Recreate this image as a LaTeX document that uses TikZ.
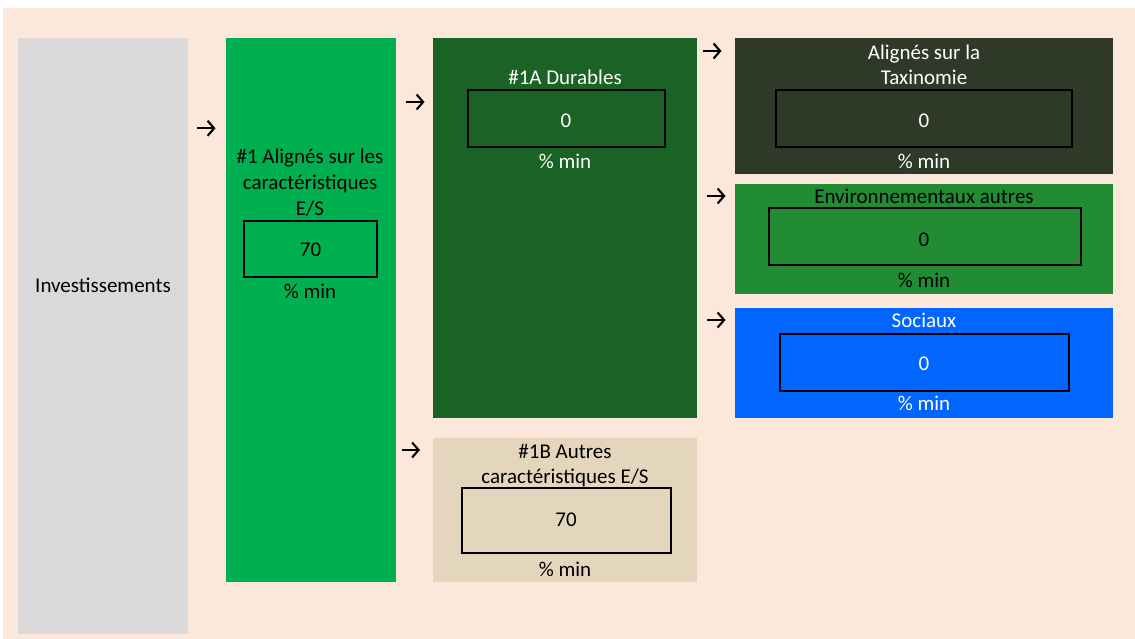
\documentclass[tikz,border=0pt]{standalone}
\usepackage{fontspec}
\setmainfont{Carlito}
\usetikzlibrary{arrows.meta}
\definecolor{bgpeach}{HTML}{FBE8DA}
\definecolor{invgray}{HTML}{D9D9D9}
\definecolor{esgreen}{HTML}{00B050}
\definecolor{durgreen}{HTML}{1B6225}
\definecolor{taxgreen}{HTML}{2E3A27}
\definecolor{envgreen}{HTML}{228C34}
\definecolor{socblue}{HTML}{0066FF}
\definecolor{othbeige}{HTML}{E3D6BC}
\tikzset{
  panel/.style={rectangle, inner sep=0pt, draw=none},
  valbox/.style={rectangle, inner sep=0pt, draw=black, line width=2pt},
  lbl/.style={inner sep=0pt, anchor=base, font=\fontsize{21}{25}\selectfont},
  flowarrow/.style={line width=2.1pt, -{Straight Barb[length=6.5pt,width=15pt,line width=2.1pt]}},
}
\begin{document}
\begin{tikzpicture}[x=1pt,y=-1pt]
\useasboundingbox (0,0) rectangle (1135,639);
\fill[bgpeach] (3,8) rectangle (1135,639);

% panels
\node[panel, fill=invgray, minimum width=170pt, minimum height=596pt] (inv) at (103,336) {};
\node[panel, fill=esgreen, minimum width=170pt, minimum height=544pt] (es) at (311,310) {};
\node[panel, fill=durgreen, minimum width=264pt, minimum height=380pt] (dur) at (565,228) {};
\node[panel, fill=othbeige, minimum width=264pt, minimum height=144pt] (oth) at (565,510) {};
\node[panel, fill=taxgreen, minimum width=378pt, minimum height=136pt] (tax) at (924,106) {};
\node[panel, fill=envgreen, minimum width=378pt, minimum height=110pt] (env) at (924,239) {};
\node[panel, fill=socblue, minimum width=378pt, minimum height=110pt] (soc) at (924,363) {};

% value boxes
\node[valbox, minimum width=133pt, minimum height=56pt] (esv) at (310.5,249) {};
\node[valbox, minimum width=197pt, minimum height=57pt] (durv) at (566.5,118.5) {};
\node[valbox, minimum width=296pt, minimum height=57pt] (taxv) at (924,118.5) {};
\node[valbox, minimum width=312pt, minimum height=57pt] (envv) at (925,236.5) {};
\node[valbox, minimum width=289pt, minimum height=57pt] (socv) at (924.5,362.5) {};
\node[valbox, minimum width=209pt, minimum height=65pt] (othv) at (566.5,520.5) {};

% texts
\node[lbl] (invt) at (103,292.5) {Investissements};

\node[lbl] (est1) at (310,163.3) {\#1 Alignés sur les};
\node[lbl] (est2) at (310,189.3) {caractéristiques};
\node[lbl] (est3) at (310,215) {E/S};
\node[lbl] (esn) at (310.5,256.7) {70};
\node[lbl] (esm) at (310,298.3) {\% min};

\node[lbl, text=white] (durt) at (565,85) {\#1A Durables};
\node[lbl, text=white] (durn) at (566,127.3) {0};
\node[lbl, text=white] (durm) at (565,168.3) {\% min};

\node[lbl, text=white] (taxt1) at (924,60) {Alignés sur la};
\node[lbl, text=white] (taxt2) at (924,85) {Taxinomie};
\node[lbl, text=white] (taxn) at (924,127.3) {0};
\node[lbl, text=white] (taxm) at (924,168.3) {\% min};

\node[lbl] (envt) at (924,204) {Environnementaux autres};
\node[lbl] (envn) at (924,246.7) {0};
\node[lbl] (envm) at (924,287.7) {\% min};

\node[lbl, text=white] (soct) at (924,327.7) {Sociaux};
\node[lbl, text=white] (socn) at (924,370) {0};
\node[lbl, text=white] (socm) at (924,410.7) {\% min};

\node[lbl] (otht1) at (565,458.3) {\#1B Autres};
\node[lbl] (otht2) at (565,483.3) {caractéristiques E/S};
\node[lbl] (othn) at (566,526.7) {70};
\node[lbl] (othm) at (565,576) {\% min};

% arrows
\coordinate (a1s) at (197,128.3); \coordinate (a1e) at (215.5,128.3);
\coordinate (a2s) at (406,102);   \coordinate (a2e) at (424.5,102);
\coordinate (a3s) at (401.5,450); \coordinate (a3e) at (420,450);
\coordinate (a4s) at (703,51);    \coordinate (a4e) at (721.5,51);
\coordinate (a5s) at (707,196);   \coordinate (a5e) at (725.5,196);
\coordinate (a6s) at (707,320);   \coordinate (a6e) at (725.5,320);
\draw[flowarrow] (a1s) -- (a1e);
\draw[flowarrow] (a2s) -- (a2e);
\draw[flowarrow] (a3s) -- (a3e);
\draw[flowarrow] (a4s) -- (a4e);
\draw[flowarrow] (a5s) -- (a5e);
\draw[flowarrow] (a6s) -- (a6e);
\end{tikzpicture}
\end{document}
